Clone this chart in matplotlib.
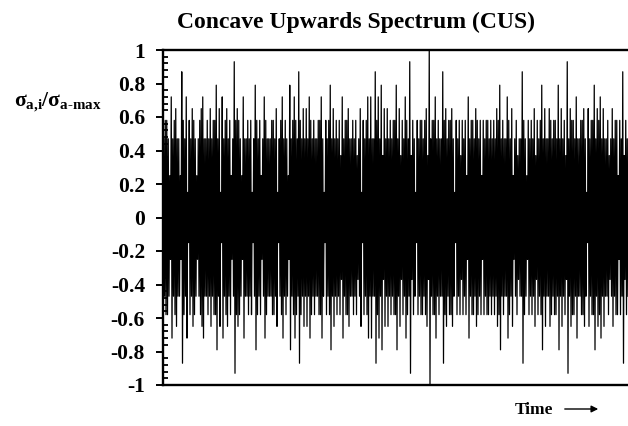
import matplotlib
matplotlib.use("Agg")
import matplotlib.pyplot as plt
import numpy as np
from matplotlib.ticker import AutoMinorLocator

# stress amplitude levels of the CUS block, relative to the block maximum
amp_levels = [0.15, 0.25, 0.37, 0.47, 0.58, 0.65, 0.72, 0.79, 0.87, 0.93, 1.00]
level_codes = "0123456789X"

# one character per cycle, index into amp_levels (block 1 ends with the max cycle)
block_1 = ("3443163453" "3184360435" "4313456334" "3534473506" "3453413945"
           "4316334340" "3743413643" "3344350346" "3431734643" "8435353643"
           "4334463043" "4735343426" "3445334342" "3504346363" "3846372535"
           "3434473524" "3643924304" "3443452X")
block_2 = ("34" "4634338453" "4453043424" "3416344354" "3414344343" "4354734336"
           "4351342338" "4314343524" "3473533543" "4437353429" "3544363344"
           "5305344735" "4635334235" "3441438243")

y_ticks = [-1, -0.8, -0.6, -0.4, -0.2, 0, 0.2, 0.4, 0.6, 0.8, 1]
y_tick_labels = ["-1", "-0.8", "-0.6", "-0.4", "-0.2", "0", "0.2", "0.4", "0.6", "0.8", "1"]

amps = np.array([amp_levels[level_codes.index(c)] for c in block_1 + block_2])
n = len(amps)

# each cycle runs from +a to -a
x = np.empty(2 * n)
y = np.empty(2 * n)
x[0::2] = np.arange(n)
x[1::2] = np.arange(n) + 0.5
y[0::2] = amps
y[1::2] = -amps

plt.rcParams["font.family"] = "Liberation Serif"
plt.rcParams["font.weight"] = "bold"
plt.rcParams["mathtext.fontset"] = "custom"
plt.rcParams["mathtext.rm"] = "Liberation Serif:bold"
plt.rcParams["mathtext.it"] = "Liberation Serif:bold"
plt.rcParams["mathtext.bf"] = "Liberation Serif:bold"
plt.rcParams["mathtext.default"] = "rm"

fig = plt.figure(figsize=(6.28, 4.26), dpi=100)
ax = fig.add_axes([163 / 628, 1 - 385 / 426, 1 - 163 / 628, (385 - 50) / 426])

ax.plot(x, y, color="black", linewidth=0.9)

ax.set_xlim(-0.5, n - 0.5)
ax.set_ylim(-1, 1)
ax.set_yticks(y_ticks)
ax.set_yticklabels(y_tick_labels, fontsize=15.5, fontweight="bold")
ax.yaxis.set_minor_locator(AutoMinorLocator(5))
ax.tick_params(axis="y", which="major", direction="out", length=5, width=1.4, pad=8)
ax.tick_params(axis="y", which="minor", direction="in", length=3.5, width=1.3)
ax.set_xticks([])

for side in ["left", "top", "bottom"]:
    ax.spines[side].set_linewidth(1.7)
ax.spines["right"].set_visible(False)

fig.text(356 / 628, 1 - 22 / 426, "Concave Upwards Spectrum (CUS)",
         ha="center", va="center", fontsize=17, fontweight="bold")
fig.text(14 / 628, 1 - 102 / 426, r"$\sigma_{a{,}i}/\sigma_{a\text{-}max}$",
         ha="left", va="center", fontsize=15.5)
fig.text(553 / 628, 1 - 410 / 426, "Time", ha="right", va="center",
         fontsize=12.5, fontweight="bold")
fig.add_artist(matplotlib.patches.FancyArrowPatch(
    (562 / 628, 1 - 409 / 426), (601 / 628, 1 - 409 / 426),
    transform=fig.transFigure, arrowstyle="-|>", mutation_scale=10,
    color="black", linewidth=1.0))

fig.savefig("out.png", dpi=100)
